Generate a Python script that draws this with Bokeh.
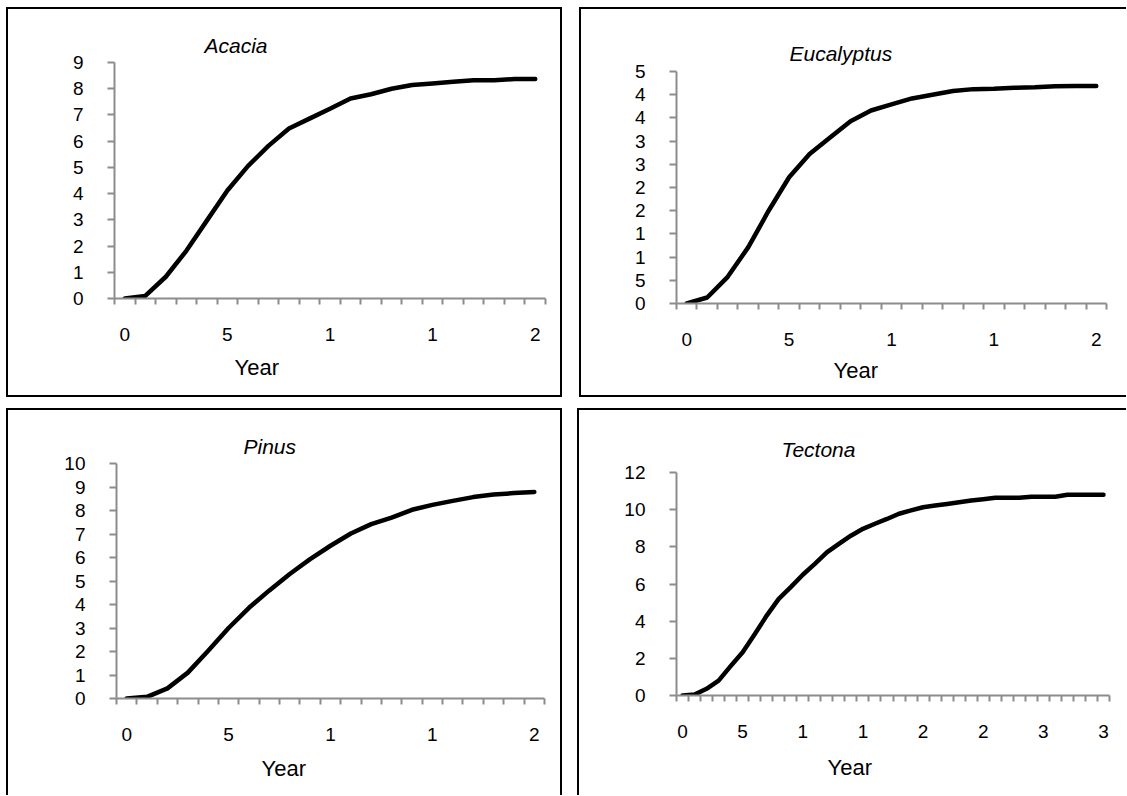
from bokeh.plotting import figure
from bokeh.models import Range1d, FixedTicker, Title
from bokeh.layouts import row, column
from bokeh.embed import file_html
from bokeh.resources import INLINE

# ---------------- data ----------------
acacia_years = list(range(21))
acacia_values = [0, 0.1, 0.83, 1.82, 2.97, 4.12, 5.05, 5.82, 6.48, 6.86, 7.24,
                 7.63, 7.79, 8.0, 8.14, 8.2, 8.27, 8.32, 8.32, 8.37, 8.37]
acacia_yticks = [0, 1, 2, 3, 4, 5, 6, 7, 8, 9]
acacia_ylabels = ["0", "1", "2", "3", "4", "5", "6", "7", "8", "9"]
acacia_xticks = [0, 5, 10, 15, 20]
acacia_xlabels = ["0", "5", "1", "1", "2"]

euc_years = list(range(21))
euc_values = [0, 1.3, 5.75, 12.1, 20, 27.2, 32.2, 35.8, 39.3, 41.6, 42.9,
              44.2, 45.0, 45.8, 46.2, 46.3, 46.5, 46.6, 46.8, 46.9, 46.9]
euc_yticks = [0, 5, 10, 15, 20, 25, 30, 35, 40, 45, 50]
euc_ylabels = ["0", "5", "1", "1", "2", "2", "3", "3", "4", "4", "5"]
euc_xticks = [0, 5, 10, 15, 20]
euc_xlabels = ["0", "5", "1", "1", "2"]

pinus_years = list(range(21))
pinus_values = [0, 0.07, 0.43, 1.1, 2.03, 3.0, 3.86, 4.6, 5.3, 5.93, 6.5,
                7.02, 7.42, 7.7, 8.03, 8.24, 8.41, 8.57, 8.68, 8.74, 8.79]
pinus_yticks = [0, 1, 2, 3, 4, 5, 6, 7, 8, 9, 10]
pinus_ylabels = ["0", "1", "2", "3", "4", "5", "6", "7", "8", "9", "10"]
pinus_xticks = [0, 5, 10, 15, 20]
pinus_xlabels = ["0", "5", "1", "1", "2"]

tect_years = list(range(36))
tect_values = [0, 0.05, 0.36, 0.8, 1.58, 2.33, 3.3, 4.3, 5.2, 5.83, 6.5,
               7.08, 7.7, 8.16, 8.6, 8.97, 9.24, 9.5, 9.78, 9.96, 10.13,
               10.22, 10.31, 10.4, 10.49, 10.56, 10.64, 10.64, 10.64, 10.7,
               10.7, 10.7, 10.8, 10.8, 10.8, 10.8]
tect_yticks = [0, 2, 4, 6, 8, 10, 12]
tect_ylabels = ["0", "2", "4", "6", "8", "10", "12"]
tect_xticks = [0, 5, 10, 15, 20, 25, 30, 35]
tect_xlabels = ["0", "5", "1", "1", "2", "2", "3", "3"]

x_title = "Year"

# ---------------- styling ----------------
FONT = "Liberation Sans"
AXIS_GRAY = "#8c8c8c"
TICK_SIZE = "19px"


def box_shadow(sides):
    shadows = []
    if "l" in sides:
        shadows.append("inset 2px 0 0 0 #000")
    if "r" in sides:
        shadows.append("inset -2px 0 0 0 #000")
    if "t" in sides:
        shadows.append("inset 0 2px 0 0 #000")
    if "b" in sides:
        shadows.append("inset 0 -2px 0 0 #000")
    return ", ".join(shadows)


def panel(name, years, values, yticks, ylabels, xticks, xlabels, ymax,
          BW, BH, shift, fl, fw, fh, border_top, border_bottom,
          title_off, title_stand, year_off, year_stand, sides):
    n = len(years)
    H = border_top + fh + border_bottom
    p = figure(width=BW, height=H, x_range=Range1d(-0.5, n - 0.5), y_range=Range1d(0, ymax),
               output_backend="svg", toolbar_location=None,
               min_border_left=fl, min_border_top=border_top,
               min_border_right=BW - fl - fw, min_border_bottom=border_bottom)
    p.margin = (shift, 0, 0, 0)
    p.outline_line_color = None
    p.xgrid.visible = False
    p.ygrid.visible = False
    p.border_fill_color = None
    p.background_fill_color = None

    p.line(years, values, line_color="black", line_width=4.5,
           line_join="round", line_cap="round")

    xa = p.xaxis[0]
    xa.ticker = FixedTicker(ticks=xticks, minor_ticks=[i - 0.5 for i in range(n + 1)])
    xa.major_label_overrides = {t: l for t, l in zip(xticks, xlabels)}
    xa.major_tick_out = 0
    xa.major_tick_in = 0
    xa.minor_tick_out = 6
    xa.minor_tick_in = 0
    xa.minor_tick_line_color = AXIS_GRAY
    xa.minor_tick_line_width = 2
    xa.axis_line_color = AXIS_GRAY
    xa.axis_line_width = 2
    xa.major_label_standoff = 23
    xa.major_label_text_font = FONT
    xa.major_label_text_font_size = TICK_SIZE
    xa.major_label_text_color = "black"

    ya = p.yaxis[0]
    ya.ticker = FixedTicker(ticks=yticks)
    ya.major_label_overrides = {t: l for t, l in zip(yticks, ylabels)}
    ya.major_tick_out = 7
    ya.major_tick_in = 0
    ya.minor_tick_out = 0
    ya.minor_tick_in = 0
    ya.major_tick_line_color = AXIS_GRAY
    ya.major_tick_line_width = 2
    ya.axis_line_color = AXIS_GRAY
    ya.axis_line_width = 2
    ya.major_label_standoff = 24
    ya.major_label_text_font = FONT
    ya.major_label_text_font_size = TICK_SIZE
    ya.major_label_text_color = "black"

    p.add_layout(Title(text=name, text_font=FONT, text_font_size="21px",
                       text_font_style="italic", align="left", offset=title_off,
                       standoff=title_stand, text_color="black"), "above")
    p.add_layout(Title(text=x_title, text_font=FONT, text_font_size="22px",
                       text_font_style="normal", align="left", offset=year_off,
                       standoff=year_stand, text_color="black"), "below")

    wrapper = column(p, width=BW, height=BH, styles={"box-shadow": box_shadow(sides)})
    return wrapper


p1 = panel("Acacia", acacia_years, acacia_values, acacia_yticks, acacia_ylabels,
           acacia_xticks, acacia_xlabels, 9,
           556, 390, 0, 108, 431, 236, 55, 94, 90, 11, 120, 18, "lrtb")
p2 = panel("Eucalyptus", euc_years, euc_values, euc_yticks, euc_ylabels,
           euc_xticks, euc_xlabels, 50,
           547, 390, 9, 97, 430, 232, 55, 94, 113, 14, 157, 14, "ltb")
p3 = panel("Pinus", pinus_years, pinus_values, pinus_yticks, pinus_ylabels,
           pinus_xticks, pinus_xlabels, 10,
           556, 387, 0, 110, 428, 235, 55, 97, 127, 12, 145, 20, "lrt")
p4 = panel("Tectona", tect_years, tect_values, tect_yticks, tect_ylabels,
           tect_xticks, tect_xlabels, 12,
           549, 387, 9, 99, 433, 223, 55, 97, 105, 23, 151, 25, "lt")

layout = column(row(p1, p2, spacing=17), row(p3, p4, spacing=15), spacing=11,
                margin=(7, 0, 0, 6))

open("out.html", "w").write(file_html(layout, INLINE))
